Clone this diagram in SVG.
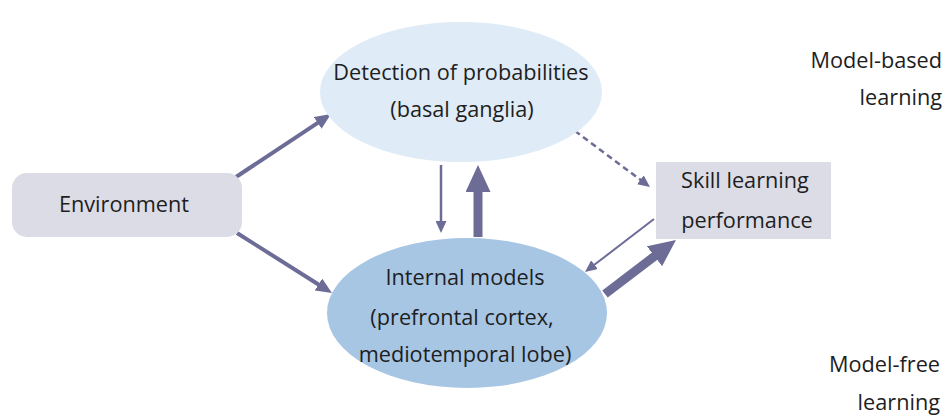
<svg xmlns="http://www.w3.org/2000/svg" width="947" height="416" viewBox="0 0 947 416">
<style>
text{font-family:"Open Sans","Noto Sans","Liberation Sans",sans-serif;font-size:21.7px;fill:#1e1e1e;}
.c{text-anchor:middle;}
.r{text-anchor:end;}
.ln{stroke:#6c6c96;fill:none;}
.box{fill:#dcdce6;}
</style>
<defs>
<marker id="ahm" markerUnits="userSpaceOnUse" viewBox="0 0 16 14" refX="1" refY="7" markerWidth="16" markerHeight="14" orient="auto"><path d="M0,0 L16,7 L0,14 z" fill="#6c6c96"/></marker>
<marker id="ahs" markerUnits="userSpaceOnUse" viewBox="0 0 12 11" refX="1" refY="5.5" markerWidth="12" markerHeight="11" orient="auto"><path d="M0,0 L12,5.5 L0,11 z" fill="#6c6c96"/></marker>
<marker id="ahl" markerUnits="userSpaceOnUse" viewBox="0 0 27 25" refX="1" refY="12.5" markerWidth="27" markerHeight="25" orient="auto"><path d="M0,0 L27,12.5 L0,25 z" fill="#6c6c96"/></marker>
</defs>
<g id="connectors">
<line class="ln" x1="236" y1="177" x2="318.5" y2="122.3" stroke-width="4" marker-end="url(#ahm)"/>
<line class="ln" x1="237" y1="233" x2="319.3" y2="285" stroke-width="4" marker-end="url(#ahm)"/>
<line class="ln" x1="441" y1="165" x2="441" y2="222" stroke-width="2.5" marker-end="url(#ahs)"/>
<line class="ln" x1="478" y1="237" x2="478" y2="191" stroke-width="9" marker-end="url(#ahl)"/>
<line class="ln" x1="575" y1="131" x2="641.2" y2="180.4" stroke-width="2.5" stroke-dasharray="6,4" marker-end="url(#ahs)"/>
<line class="ln" x1="654" y1="219" x2="593.7" y2="265.3" stroke-width="2" marker-end="url(#ahs)"/>
<line class="ln" x1="605" y1="294" x2="655.3" y2="255.7" stroke-width="9" marker-end="url(#ahl)"/>
</g>
<g id="detection">
<ellipse cx="461" cy="92" rx="141" ry="70" fill="#dfebf6"/>
<text class="c" x="461" y="80">Detection of probabilities</text>
<text class="c" x="462" y="117">(basal ganglia)</text>
</g>
<g id="internal">
<ellipse cx="467" cy="313" rx="140" ry="75" fill="#a7c6e4"/>
<text class="c" x="465" y="285">Internal models</text>
<text class="c" x="462" y="325">(prefrontal cortex,</text>
<text class="c" x="465" y="362">mediotemporal lobe)</text>
</g>
<g id="environment">
<rect class="box" x="12" y="173" width="230" height="64" rx="15"/>
<text class="c" x="124" y="212">Environment</text>
</g>
<g id="skill">
<rect class="box" x="656" y="162" width="175" height="77"/>
<text class="c" x="745" y="188">Skill learning</text>
<text class="c" x="747" y="228">performance</text>
</g>
<g id="labels">
<text class="r" x="942" y="68">Model-based</text>
<text class="r" x="942" y="105">learning</text>
<text class="r" x="940" y="372">Model-free</text>
<text class="r" x="940" y="410">learning</text>
</g>
</svg>
